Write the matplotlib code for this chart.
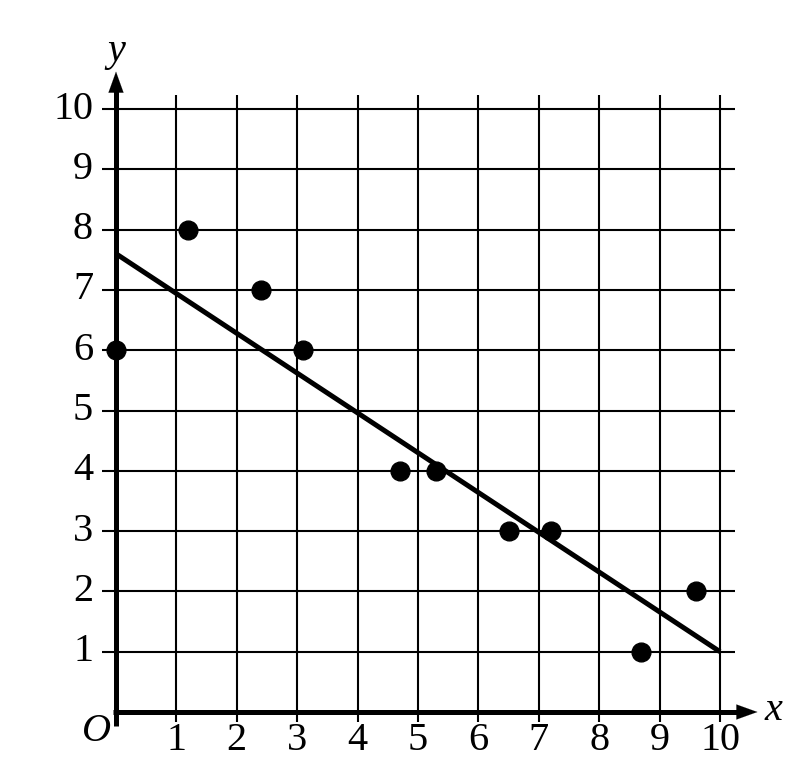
import matplotlib
matplotlib.use("Agg")
import matplotlib.pyplot as plt

# Data
x_vals = [0, 1.2, 2.4, 3.1, 4.7, 5.3, 6.5, 7.2, 8.7, 9.6]
y_vals = [6, 8, 7, 6, 4, 4, 3, 3, 1, 2]
line_x = [0, 10]
line_y = [7.6, 1.0]
x_ticks = [1, 2, 3, 4, 5, 6, 7, 8, 9, 10]
y_ticks = [1, 2, 3, 4, 5, 6, 7, 8, 9, 10]

W, H = 808, 782
fig = plt.figure(figsize=(W / 100, H / 100), dpi=100)
ax = fig.add_axes([0, 0, 1, 1])
ux, uy = 60.4, 60.3
ox, oy = 116, 712
ax.set_xlim(-ox / ux, (W - ox) / ux)
ax.set_ylim(-(H - oy) / uy, oy / uy)
ax.axis("off")

serif = ["Liberation Serif", "DejaVu Serif"]
fs = 29

# grid
for t in x_ticks:
    ax.plot([t, t], [-0.17, 10.24], color="black", lw=1.5, solid_capstyle="butt", zorder=1)
for t in y_ticks:
    ax.plot([-0.23, 10.25], [t, t], color="black", lw=1.5, solid_capstyle="butt", zorder=1)

# axes with arrows
ax.plot([0, 0], [-0.23, 10.35], color="black", lw=3.6, solid_capstyle="butt", zorder=3)
ax.plot([-0.05, 10.3], [0, 0], color="black", lw=3.6, solid_capstyle="butt", zorder=3)
arrow = dict(arrowstyle="-|>,head_length=0.75,head_width=0.27", color="black", lw=0.1,
             shrinkA=0, shrinkB=0, mutation_scale=20)
ax.annotate("", xy=(0, 10.62), xytext=(0, 10.2), arrowprops=arrow, zorder=4)
ax.annotate("", xy=(10.62, 0), xytext=(10.2, 0), arrowprops=arrow, zorder=4)

# tick labels
for t in y_ticks:
    ax.text(-0.38, t, str(t), ha="right", va="center", fontsize=fs, family=serif)
for t in x_ticks:
    ax.text(t, -0.47, str(t), ha="center", va="center", fontsize=fs, family=serif)
ax.text(-0.33, -0.32, "O", ha="center", va="center", fontsize=fs, family=serif, style="italic")
ax.text(0.0, 10.95, "y", ha="center", va="center", fontsize=fs, family=serif, style="italic")
ax.text(10.88, 0.03, "x", ha="center", va="center", fontsize=fs, family=serif, style="italic")

# regression line and points
ax.plot(line_x, line_y, color="black", lw=3.6, solid_capstyle="butt", zorder=5)
ax.plot(x_vals, y_vals, "o", color="black", markersize=13.5, zorder=6)

fig.savefig("out.png", dpi=100)
